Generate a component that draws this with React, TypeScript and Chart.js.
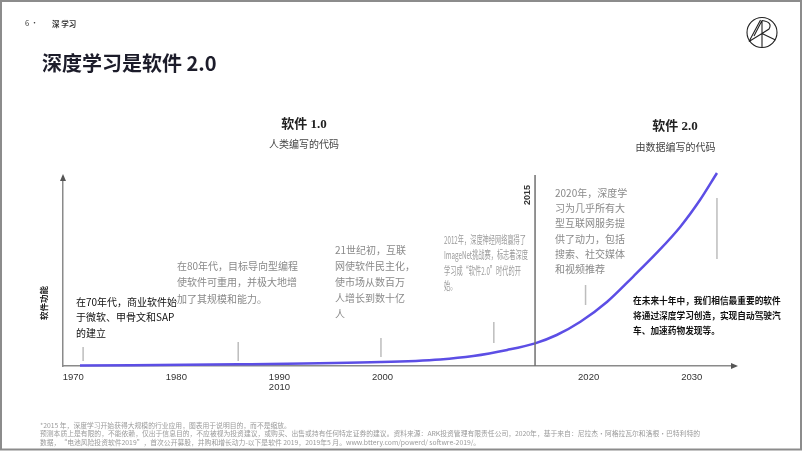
import React, { useEffect, useRef } from 'react';
import { Chart, registerables } from 'chart.js';

Chart.register(...registerables);

// ---------- data ----------
const curveYears = [1970.65, 1986.0, 1999.85, 2005.6, 2008.8, 2012.1, 2014.8, 2016.9, 2019.2, 2021.8, 2024.3, 2026.6, 2028.9, 2030.8, 2032.45];
const curveValues = [0.2, 0.9, 2.1, 3.5, 5.3, 8.5, 12.0, 16.4, 23.4, 34.0, 47.2, 59.8, 73.7, 87.8, 102.1];

const markerYears = [1970.95, 1986.0, 1999.85, 2010.8, 2019.7, 2032.45];
const markerLow = [2.6, 2.6, 4.8, 12.2, 32.3, 56.6];
const markerHigh = [10.1, 12.7, 14.8, 23.3, 42.9, 88.9];

const dividerYear = 2014.8;
const dividerTop = 101;
const dividerLabel = '2015';

const xTickYears = [1970, 1980, 1990, 2000, 2020, 2030];
const xTickLabels: (string | string[])[] = ['1970', '1980', ['1990', '2010'], '2000', '2020', '2030'];

const yAxisTitle = '软件功能';
const pageNumber = '6 •';
const sectionName = '深 学习';
const titleText = '深度学习是软件 2.0';
const era1Title = '软件 1.0';
const era1Sub = '人类编写的代码';
const era2Title = '软件 2.0';
const era2Sub = '由数据编写的代码';

const note1970 = ['在70年代，商业软件始', '于微软、甲骨文和SAP', '的建立'];
const note1980 = ['在80年代，目标导向型编程', '使软件可重用，并极大地增', '加了其规模和能力。'];
const note2000 = ['21世纪初，互联', '网使软件民主化，', '使市场从数百万', '人增长到数十亿', '人'];
const note2012 = ['2012年，深度神经网络赢得了', 'ImageNet挑战赛，标志着深度', '学习成“软件2.0”时代的开', '始。'];
const note2020 = ['2020年，深度学', '习为几乎所有大', '型互联网服务提', '供了动力，包括', '搜索、社交媒体', '和视频推荐'];
const noteFuture = ['在未来十年中，我们相信最重要的软件', '将通过深度学习创造，实现自动驾驶汽', '车、加速药物发现等。'];

const footnotes = [
  '*2015 年，深度学习开始获得大规模的行业应用，图表用于说明目的，而不是缩放。',
  '预测本质上是有限的，不能依赖，仅出于信息目的，不应被视为投资建议，或购买、出售或持有任何特定证券的建议。资料来源：ARK投资管理有限责任公司，2020年，基于来自：尼拉杰·阿格拉瓦尔和洛根·巴特利特的',
  '数据，“电池风险投资软件2019”，首次公开募股，并购和增长动力-以下是软件 2019，2019年5 月。www.bttery.com/powerd/ softwre-2019/。',
];

// ---------- styles ----------
const SANS = '"Noto Sans CJK SC", "Liberation Sans", sans-serif';
const LATIN = '"Liberation Sans", Arial, sans-serif';
const SERIF = '"Liberation Serif", "Noto Sans CJK SC", serif';
const AXIS = '#8a8a8a';
const CURVE = '#5c4ee5';

function drawLines(
  ctx: CanvasRenderingContext2D,
  lines: string[],
  x: number,
  y: number,
  lh: number,
  font: string,
  color: string,
  align: CanvasTextAlign = 'left',
  targetWidth = 0
) {
  ctx.save();
  ctx.font = font;
  ctx.fillStyle = color;
  ctx.textAlign = align;
  ctx.textBaseline = 'middle';
  let sx = 1;
  if (targetWidth > 0) {
    sx = targetWidth / ctx.measureText(lines[0]).width;
  }
  lines.forEach((line, i) => {
    ctx.save();
    ctx.translate(x, y + i * lh);
    ctx.scale(sx, 1);
    ctx.fillText(line, 0, 0);
    ctx.restore();
  });
  ctx.restore();
}

const decorPlugin = {
  id: 'decor',
  afterDraw(chart: any) {
    const ctx: CanvasRenderingContext2D = chart.ctx;
    const area = chart.chartArea;
    const xs = chart.scales.x;

    // frame
    ctx.save();
    ctx.strokeStyle = '#8c8c8c';
    ctx.lineWidth = 2;
    ctx.strokeRect(1, 1, 800, 448.5);
    ctx.restore();

    // header
    drawLines(ctx, [pageNumber], 25, 23, 10, `7.5px ${SANS}`, '#333');
    drawLines(ctx, [sectionName], 52, 24, 10, `bold 7.5px ${SANS}`, '#333');
    drawLines(ctx, [titleText], 42, 63, 20, `bold 20px ${SANS}`, '#1c1c2a');

    // logo
    ctx.save();
    ctx.strokeStyle = '#222';
    ctx.lineWidth = 1.1;
    ctx.beginPath();
    ctx.arc(762, 32.5, 15, 0, Math.PI * 2);
    ctx.stroke();
    ctx.beginPath();
    ctx.moveTo(762, 20.5); ctx.lineTo(762, 47.5);
    ctx.moveTo(749, 41.5); ctx.lineTo(760.5, 20);
    ctx.moveTo(754, 36); ctx.lineTo(762, 20.5);
    ctx.moveTo(762, 20.5);
    ctx.quadraticCurveTo(773, 22, 769, 29);
    ctx.lineTo(762, 33.5);
    ctx.moveTo(762, 33.5); ctx.lineTo(775.5, 40);
    ctx.moveTo(749, 41.5); ctx.lineTo(762, 33.5);
    ctx.stroke();
    ctx.restore();

    // era headings
    drawLines(ctx, [era1Title], 304, 125, 10, `bold 13px ${SERIF}`, '#222', 'center');
    drawLines(ctx, [era1Sub], 304, 144, 10, `10px ${SANS}`, '#444', 'center');
    drawLines(ctx, [era2Title], 675, 127, 10, `bold 13px ${SERIF}`, '#222', 'center');
    drawLines(ctx, [era2Sub], 675.5, 147, 10, `10px ${SANS}`, '#444', 'center');

    // axis arrows
    ctx.save();
    ctx.fillStyle = '#555';
    ctx.beginPath();
    ctx.moveTo(area.right + 3, area.bottom);
    ctx.lineTo(area.right - 4, area.bottom - 3);
    ctx.lineTo(area.right - 4, area.bottom + 3);
    ctx.closePath();
    ctx.fill();
    ctx.beginPath();
    ctx.moveTo(area.left, area.top - 3);
    ctx.lineTo(area.left - 3, area.top + 4);
    ctx.lineTo(area.left + 3, area.top + 4);
    ctx.closePath();
    ctx.fill();
    ctx.restore();

    // y axis title
    ctx.save();
    ctx.translate(43.5, 303);
    ctx.rotate(-Math.PI / 2);
    ctx.font = `bold 8.5px ${SANS}`;
    ctx.fillStyle = '#222';
    ctx.textAlign = 'center';
    ctx.textBaseline = 'middle';
    ctx.fillText(yAxisTitle, 0, 0);
    ctx.restore();

    // divider label
    ctx.save();
    ctx.translate(xs.getPixelForValue(dividerYear) - 8, 195);
    ctx.rotate(-Math.PI / 2);
    ctx.font = `bold 9px ${LATIN}`;
    ctx.fillStyle = '#333';
    ctx.textAlign = 'center';
    ctx.textBaseline = 'middle';
    ctx.fillText(dividerLabel, 0, 0);
    ctx.restore();

    // annotations
    drawLines(ctx, note1970, 76, 302, 15.5, `10px ${SANS}`, '#111');
    drawLines(ctx, note1980, 177, 266, 16.5, `10px ${SANS}`, '#8a8a8a');
    drawLines(ctx, note2000, 335, 250, 16, `10px ${SANS}`, '#8a8a8a');
    drawLines(ctx, note2012, 444, 240, 15.3, `11px ${SANS}`, '#9a9a9a', 'left', 82);
    drawLines(ctx, note2020, 555, 193, 15.3, `10px ${SANS}`, '#8a8a8a');
    drawLines(ctx, noteFuture, 633, 301, 15, `bold 8.7px ${SANS}`, '#111');

    // footnotes
    drawLines(ctx, footnotes, 40, 425, 8.7, `6.8px ${SANS}`, '#9a9a9a');
  },
};

export default function App() {
  const ref = useRef<HTMLCanvasElement>(null);

  useEffect(() => {
    const canvas = ref.current;
    if (!canvas) return;

    const curveData = curveYears.map((x, i) => ({ x, y: curveValues[i] }));
    const markerData: { x: number; y: number | null }[] = [];
    markerYears.forEach((x, i) => {
      markerData.push({ x, y: markerLow[i] });
      markerData.push({ x, y: markerHigh[i] });
      markerData.push({ x, y: null });
    });
    const dividerData = [
      { x: dividerYear, y: 0 },
      { x: dividerYear, y: dividerTop },
    ];

    const chart = new Chart(canvas, {
      type: 'line',
      data: {
        datasets: [
          {
            data: markerData as any,
            borderColor: '#bdbdbd',
            borderWidth: 1.5,
            pointRadius: 0,
            spanGaps: false,
            clip: false as any,
          },
          {
            data: dividerData,
            borderColor: '#707070',
            borderWidth: 1.5,
            pointRadius: 0,
            clip: false as any,
          },
          {
            data: curveData,
            borderColor: CURVE,
            borderWidth: 2.5,
            pointRadius: 0,
            cubicInterpolationMode: 'monotone',
            clip: false as any,
          },
        ],
      },
      options: {
        responsive: false,
        animation: false,
        events: [],
        layout: { padding: { left: 63, right: 67, top: 177, bottom: 55 } },
        plugins: {
          legend: { display: false },
          tooltip: { enabled: false },
        },
        scales: {
          x: {
            type: 'linear',
            min: 1969,
            max: 2034.2,
            afterBuildTicks: (s: any) => {
              s.ticks = xTickYears.map((v) => ({ value: v }));
            },
            afterFit: (s: any) => {
              s.height = 30;
              s.paddingLeft = 0;
              s.paddingRight = 0;
            },
            grid: { display: false, drawTicks: false },
            border: { display: true, color: AXIS, width: 1.5 },
            ticks: {
              padding: 6,
              color: '#333',
              autoSkip: false,
              maxRotation: 0,
              font: { family: LATIN, size: 9.5, lineHeight: 1.05 },
              callback: (v: any) => xTickLabels[xTickYears.indexOf(Number(v))] as any,
            },
          },
          y: {
            min: 0,
            max: 100,
            afterFit: (s: any) => {
              s.width = 0;
            },
            grid: { display: false, drawTicks: false },
            border: { display: true, color: AXIS, width: 1.5 },
            ticks: { display: false },
          },
        },
      },
      plugins: [decorPlugin],
    });

    return () => chart.destroy();
  }, []);

  return (
    <div style={{ position: 'fixed', left: 0, top: 0, width: 802, height: 451, background: '#fff' }}>
      <canvas ref={ref} width={802} height={451} style={{ display: 'block', width: 802, height: 451 }} />
    </div>
  );
}
